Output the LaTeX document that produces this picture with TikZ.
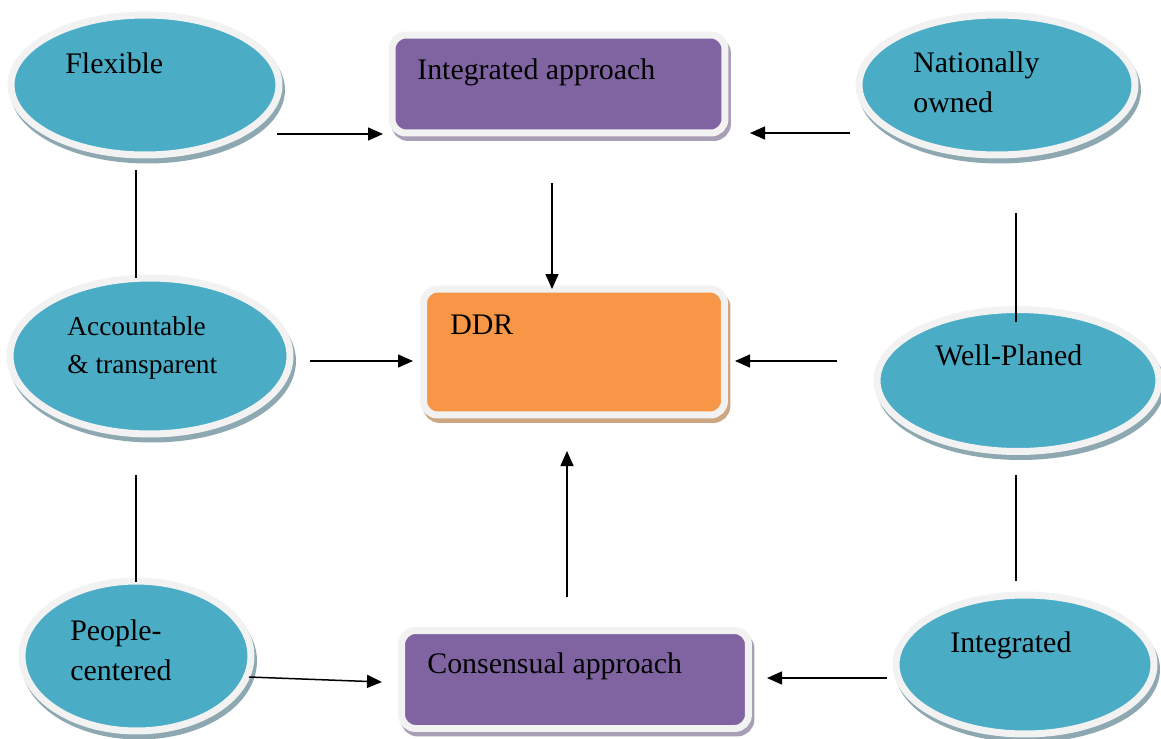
\documentclass[tikz,border=0pt]{standalone}
\usepackage{fontspec}
\setmainfont{Liberation Serif}
\usetikzlibrary{shapes.geometric,shadows,arrows.meta}
\definecolor{cyanf}{HTML}{4BACC6}
\definecolor{purf}{HTML}{8064A2}
\definecolor{orf}{HTML}{F79646}
\definecolor{rimc}{HTML}{F2F2F2}
\definecolor{shcyan}{HTML}{8DA8B1}
\definecolor{shpur}{HTML}{A89EB6}
\definecolor{shor}{HTML}{CFA682}
\tikzset{
  oval/.style={ellipse, draw=rimc, line width=0.14cm, fill=cyanf, inner sep=0pt,
    drop shadow={shadow xshift=0.05cm, shadow yshift=-0.1cm, fill=shcyan, draw=shcyan, line width=0.14cm, opacity=1}},
  rbox/.style={rectangle, rounded corners=0.28cm, draw=rimc, line width=0.14cm, inner sep=0pt,
    drop shadow={shadow xshift=0.05cm, shadow yshift=-0.09cm, fill=#1, draw=#1, line width=0.14cm, opacity=1}},
  lbl/.style={anchor=base west, inner sep=0pt, font=\fontsize{17}{21}\selectfont},
  arr/.style={line width=0.03cm, -{Triangle[length=0.3cm,width=0.26cm]}},
  link/.style={line width=0.03cm}
}
\begin{document}
\begin{tikzpicture}[x=0.02cm, y=-0.02cm]
\useasboundingbox (0,0) rectangle (1161,738);
% ellipses
\node[oval, minimum width=5.36cm, minimum height=2.8cm] (flex) at (145,85) {};
\node[oval, minimum width=5.52cm, minimum height=2.8cm] (nat) at (997,85) {};
\node[oval, minimum width=5.6cm, minimum height=3.12cm] (acc) at (150,356) {};
\node[oval, minimum width=5.64cm, minimum height=2.84cm] (well) at (1018,380.5) {};
\node[oval, minimum width=4.58cm, minimum height=3.0cm] (ppl) at (136.5,656) {};
\node[oval, minimum width=5.16cm, minimum height=2.78cm] (integ) at (1025,664.5) {};
% boxes
\node[rbox=shpur, fill=purf, minimum width=6.66cm, minimum height=1.96cm] (ia) at (558.5,84) {};
\node[rbox=shor, fill=orf, minimum width=6.02cm, minimum height=2.52cm] (ddr) at (574,352) {};
\node[rbox=shpur, fill=purf, minimum width=6.94cm, minimum height=1.96cm] (ca) at (575,679.5) {};
% labels
\node[lbl] (flexT) at (65,73) {Flexible};
\node[lbl] (iaT) at (417,79) {Integrated approach};
\node[lbl] (natT) at (913,72) {\begin{tabular}[t]{@{}l@{}}Nationally\\[2.2pt]owned\end{tabular}};
\node[lbl, font=\fontsize{15.6}{20}\selectfont] (accT) at (67,335) {\begin{tabular}[t]{@{}l@{}}Accountable\\[2pt]\& transparent\end{tabular}};
\node[lbl] (ddrT) at (450,334) {DDR};
\node[lbl] (wellT) at (935,365) {Well-Planed};
\node[lbl] (pplT) at (70,640) {\begin{tabular}[t]{@{}l@{}}People-\\[2.2pt]centered\end{tabular}};
\node[lbl] (caT) at (427,673) {Consensual approach};
\node[lbl] (integT) at (950,652) {Integrated};
% connector end points
\coordinate (c1a) at (277,134); \coordinate (c1b) at (383,134);
\coordinate (c2a) at (850,133); \coordinate (c2b) at (750,133);
\coordinate (c3a) at (552,183); \coordinate (c3b) at (552,289);
\coordinate (c4a) at (310,361); \coordinate (c4b) at (413,361);
\coordinate (c5a) at (837,361); \coordinate (c5b) at (735,361);
\coordinate (c6a) at (567,597); \coordinate (c6b) at (567,451);
\coordinate (c7a) at (249,677); \coordinate (c7b) at (382,682);
\coordinate (c8a) at (887,678); \coordinate (c8b) at (767,678);
\coordinate (l1a) at (136,170); \coordinate (l1b) at (136,278);
\coordinate (l2a) at (136,475); \coordinate (l2b) at (136,582);
\coordinate (l3a) at (1016,213); \coordinate (l3b) at (1016,322);
\coordinate (l4a) at (1016,475); \coordinate (l4b) at (1016,581);
% arrows
\draw[arr] (c1a) -- (c1b);
\draw[arr] (c2a) -- (c2b);
\draw[arr] (c3a) -- (c3b);
\draw[arr] (c4a) -- (c4b);
\draw[arr] (c5a) -- (c5b);
\draw[arr] (c6a) -- (c6b);
\draw[arr] (c7a) -- (c7b);
\draw[arr] (c8a) -- (c8b);
% plain links
\draw[link] (l1a) -- (l1b);
\draw[link] (l2a) -- (l2b);
\draw[link] (l3a) -- (l3b);
\draw[link] (l4a) -- (l4b);
\end{tikzpicture}
\end{document}
